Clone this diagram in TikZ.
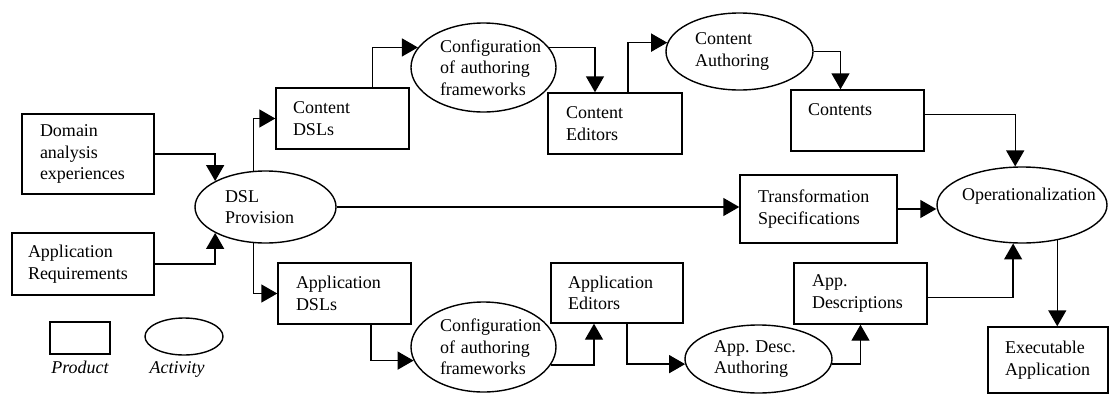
\documentclass[tikz,border=0pt]{standalone}
\usepackage{fontspec}
\setmainfont{Liberation Serif}
\usepackage{tikz}
\usetikzlibrary{arrows.meta}
\usetikzlibrary{shapes}
\hyphenpenalty=10000
\exhyphenpenalty=10000

\begin{document}
\begin{tikzpicture}
        [x=1pt, y=-1pt,
        product/.style={rectangle,draw=black,line width=1.4pt,align=left},
        activity/.style={ellipse,draw=black,line width=1.4pt,inner sep=0pt,align=left},
        flow/.style={-{Triangle[length=16pt,width=18pt]},line width=1.4pt},
        legendtext/.style={font=\fontsize{18}{21.5}\selectfont\itshape,inner sep=6pt},
        font=\fontsize{18}{21.5}\selectfont\hyphenpenalty10000\relax]

\useasboundingbox (0,0) rectangle (1109,394);

% products
\node[product,minimum width=132pt,minimum height=80pt,text width=96pt] at (88,154) (domain) {Domain\\analysis\\experiences};

\node[product,minimum width=142pt,minimum height=62pt,text width=110pt] at (83,264) (appreq) {Application\\Requirements};

\node[product,minimum width=133pt,minimum height=61pt,text width=99pt] at (342.5,118.5) (cdsl) {Content\\DSLs};

\node[product,minimum width=134pt,minimum height=61pt,text width=98pt] at (615,123.5) (cedit) {Content\\Editors};

\node[product,minimum width=133pt,minimum height=61pt,text width=99pt] at (857.5,120.5) (contents) {Contents\\ \mbox{}};

\node[product,minimum width=157pt,minimum height=68pt,text width=121pt] at (818.5,209) (trans) {Transformation\\Specifications};

\node[product,minimum width=120pt,minimum height=66pt,text width=86pt] at (1048,360) (exec) {Executable\\Application};

\node[product,minimum width=133pt,minimum height=61pt,text width=97pt] at (860.5,293.5) (appdesc) {App.\\Descriptions};

\node[product,minimum width=132pt,minimum height=60pt,text width=98pt] at (617,293) (aedit) {Application\\Editors};

\node[product,minimum width=133pt,minimum height=61pt,text width=97pt] at (344.5,293.5) (adsl) {Application\\DSLs};

% activities
\node[activity,minimum width=141pt,minimum height=72pt,text width=81pt] at (265.5,207) (dsl) {DSL\\Provision};

\node[activity,minimum width=145pt,minimum height=89pt,text width=87pt] at (483.5,67.5) (cfg1) {Configuration\\of~authoring\\frameworks};

\node[activity,minimum width=147pt,minimum height=77pt,text width=89pt] at (739.5,51.5) (cauth) {Content\\Authoring};

\node[activity,minimum width=170pt,minimum height=76pt,text width=120pt] at (1022,205) (oper) {Operationalization\\ \mbox{}};

\node[activity,minimum width=147pt,minimum height=68pt,text width=89pt] at (758.5,359) (adauth) {App.~Desc.\\Authoring};

\node[activity,minimum width=145pt,minimum height=90pt,text width=87pt] at (483.5,347) (cfg2) {Configuration\\of~authoring\\frameworks};

% legend
\node[product,minimum width=60pt,minimum height=32pt,label={[legendtext]below:Product}] at (80,338) (legproduct) {};
\node[activity,minimum width=78pt,minimum height=37pt,label={[legendtext,xshift=-7pt]below:Activity}] at (184,336.5) (legactivity) {};

% arrows
\draw[flow] (domain.east) -| (dsl.north west);
\draw[flow] (appreq.east) -| (dsl.south west);
\draw[flow] (dsl.108) |- (cdsl.west);
\draw[flow] (dsl.252) |- (adsl.west);
\draw[flow] (dsl.east) -- (dsl.east -| trans.west);
\draw[flow] ([xshift=30pt]cdsl.north) |- (cfg1.163);
\draw[flow] (cfg1.17) -| ([xshift=-20pt]cedit.north);
\draw[flow] ([xshift=13pt]cedit.north) |- (cauth.173);
\draw[flow] (cauth.east) -| ([xshift=-17pt]contents.north);
\draw[flow] ([yshift=6pt]contents.east) -| (oper.100);
\draw[flow] (trans.east) -- (trans.east -| oper.west);
\draw[flow] (oper.315) -- (oper.315 |- exec.north);
\draw[flow] ([yshift=-4pt]appdesc.east) -| (oper.257);
\draw[flow] ([xshift=26.5pt]adsl.south) |- (cfg2.191);
\draw[flow] (cfg2.345) -| ([xshift=-23pt]aedit.south);
\draw[flow] ([xshift=10pt]aedit.south) |- (adauth.184);
\draw[flow] (adauth.356) -| (appdesc.south);

\end{tikzpicture}
\end{document}
